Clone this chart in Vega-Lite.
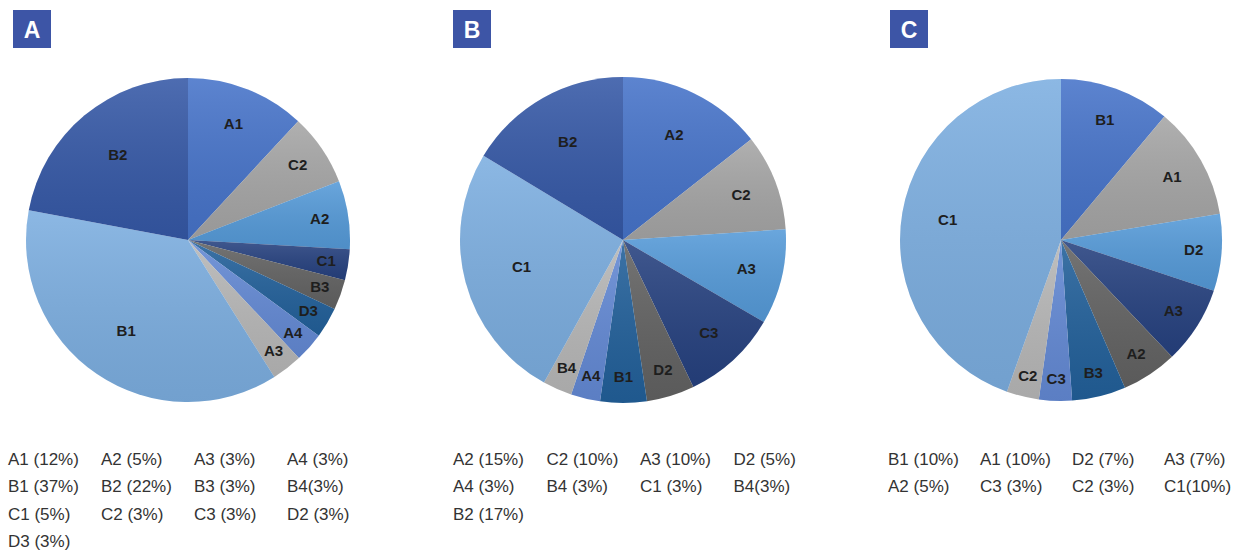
{
  "$schema": "https://vega.github.io/schema/vega-lite/v6.json",
  "padding": {"left": 8, "top": 10, "right": 0, "bottom": 0},
  "background": "white",
  "config": {"view": {"stroke": null}},
  "datasets": {
    "slices": [
      {"panel": "A", "label": "A1", "pct": 11.9},
      {"panel": "A", "label": "C2", "pct": 7.2},
      {"panel": "A", "label": "A2", "pct": 6.8},
      {"panel": "A", "label": "C1", "pct": 3.1},
      {"panel": "A", "label": "B3", "pct": 3.0},
      {"panel": "A", "label": "D3", "pct": 3.05},
      {"panel": "A", "label": "A4", "pct": 2.95},
      {"panel": "A", "label": "A3", "pct": 3.05},
      {"panel": "A", "label": "B1", "pct": 36.9},
      {"panel": "A", "label": "B2", "pct": 22.05},
      {"panel": "B", "label": "A2", "pct": 14.4},
      {"panel": "B", "label": "C2", "pct": 9.55},
      {"panel": "B", "label": "A3", "pct": 9.45},
      {"panel": "B", "label": "C3", "pct": 9.5},
      {"panel": "B", "label": "D2", "pct": 4.75},
      {"panel": "B", "label": "B1", "pct": 4.6},
      {"panel": "B", "label": "A4", "pct": 2.9},
      {"panel": "B", "label": "B4", "pct": 2.9},
      {"panel": "B", "label": "C1", "pct": 25.6},
      {"panel": "B", "label": "B2", "pct": 16.35},
      {"panel": "C", "label": "B1", "pct": 11.1},
      {"panel": "C", "label": "A1", "pct": 11.3},
      {"panel": "C", "label": "D2", "pct": 7.7},
      {"panel": "C", "label": "A3", "pct": 7.8},
      {"panel": "C", "label": "A2", "pct": 5.6},
      {"panel": "C", "label": "B3", "pct": 5.4},
      {"panel": "C", "label": "C3", "pct": 3.3},
      {"panel": "C", "label": "C2", "pct": 3.25},
      {"panel": "C", "label": "C1", "pct": 44.55}
    ],
    "legend": [
      {"panel": "A", "entry": "A1 (12%)"},
      {"panel": "A", "entry": "A2 (5%)"},
      {"panel": "A", "entry": "A3 (3%)"},
      {"panel": "A", "entry": "A4 (3%)"},
      {"panel": "A", "entry": "B1 (37%)"},
      {"panel": "A", "entry": "B2 (22%)"},
      {"panel": "A", "entry": "B3 (3%)"},
      {"panel": "A", "entry": "B4(3%)"},
      {"panel": "A", "entry": "C1 (5%)"},
      {"panel": "A", "entry": "C2 (3%)"},
      {"panel": "A", "entry": "C3 (3%)"},
      {"panel": "A", "entry": "D2 (3%)"},
      {"panel": "A", "entry": "D3 (3%)"},
      {"panel": "B", "entry": "A2 (15%)"},
      {"panel": "B", "entry": "C2 (10%)"},
      {"panel": "B", "entry": "A3 (10%)"},
      {"panel": "B", "entry": "D2 (5%)"},
      {"panel": "B", "entry": "A4 (3%)"},
      {"panel": "B", "entry": "B4 (3%)"},
      {"panel": "B", "entry": "C1 (3%)"},
      {"panel": "B", "entry": "B4(3%)"},
      {"panel": "B", "entry": "B2 (17%)"},
      {"panel": "C", "entry": "B1 (10%)"},
      {"panel": "C", "entry": "A1 (10%)"},
      {"panel": "C", "entry": "D2 (7%)"},
      {"panel": "C", "entry": "A3 (7%)"},
      {"panel": "C", "entry": "A2 (5%)"},
      {"panel": "C", "entry": "C3 (3%)"},
      {"panel": "C", "entry": "C2 (3%)"},
      {"panel": "C", "entry": "C1(10%)"}
    ]
  },
  "hconcat": [
    {
      "vconcat": [
        {
          "width": 48, "height": 38,
          "data": {"values": [{"t": "A"}]},
          "layer": [
            {"mark": {"type": "point", "shape": "square", "size": 1444, "filled": true, "opacity": 1, "color": "#3d55a6", "strokeWidth": 0}},
            {"mark": {"type": "text", "font": "Liberation Sans", "fontSize": 23, "fontWeight": "bold", "color": "white", "align": "center", "baseline": "alphabetic", "dy": 9},
             "encoding": {"text": {"field": "t"}}}
          ]
        },
        {
          "width": 360, "height": 344,
          "data": {"name": "slices"},
          "transform": [{"filter": "datum.panel === 'A'"}, {"window": [{"op": "row_number", "as": "k"}]}],
          "encoding": {
            "theta": {"field": "pct", "type": "quantitative", "stack": true},
            "order": {"field": "k", "type": "quantitative"}
          },
          "layer": [
            {
              "mark": {"type": "arc", "outerRadius": 162},
              "encoding": {
                "color": {"field": "k", "type": "ordinal", "legend": null,
                  "scale": {"domain": [1,2,3,4,5,6,7,8,9,10], "range": ["#4673c9","#a5a5a5","#559ad8","#26417f","#626262","#22609a","#6389d4","#b7b7b7","#7caee0","#3558a6"]}}
              }
            },
            {
              "mark": {"type": "arc", "outerRadius": 162, "fill": {"gradient": "linear", "x1": 0, "y1": 0, "x2": 0, "y2": 1, "stops": [{"offset": 0, "color": "rgba(255,255,255,0.12)"}, {"offset": 1, "color": "rgba(0,0,0,0.08)"}]}},
              "encoding": {"detail": {"field": "k", "type": "ordinal"}}
            },
            {
              "mark": {"type": "text", "font": "Liberation Sans", "fontSize": 15, "fontWeight": "bold"},
              "encoding": {
                "detail": {"field": "k", "type": "ordinal"},
                "color": {"value": "#1e1e1e"},
                "text": {"field": "label"},
                "radius": {"field": "pct", "type": "quantitative", "scale": {"type": "linear", "domain": [3, 20], "range": [140, 110], "clamp": true, "zero": false}}
              }
            }
          ]
        },
        {
          "width": 384, "height": 110,
          "data": {"name": "legend"},
          "transform": [
            {"filter": "datum.panel === 'A'"},
            {"window": [{"op": "row_number", "as": "idx"}]},
            {"calculate": "(datum.idx - 1) % 4", "as": "col"},
            {"calculate": "floor((datum.idx - 1) / 4)", "as": "row"}
          ],
          "mark": {"type": "text", "align": "left", "baseline": "middle", "font": "Liberation Sans", "fontSize": 17, "color": "#333333"},
          "encoding": {
            "x": {"field": "col", "type": "quantitative", "axis": null, "scale": {"domain": [0, 4.129], "nice": false, "zero": false}},
            "y": {"field": "row", "type": "quantitative", "axis": null, "scale": {"domain": [-1, 3], "nice": false, "zero": false, "reverse": true}},
            "text": {"field": "entry"}
          }
        }
      ],
      "spacing": 20
    },
    {
      "vconcat": [
        {
          "width": 38, "height": 38,
          "data": {"values": [{"t": "B"}]},
          "layer": [
            {"mark": {"type": "point", "shape": "square", "size": 1444, "filled": true, "opacity": 1, "color": "#3d55a6", "strokeWidth": 0}},
            {"mark": {"type": "text", "font": "Liberation Sans", "fontSize": 23, "fontWeight": "bold", "color": "white", "align": "center", "baseline": "alphabetic", "dy": 9},
             "encoding": {"text": {"field": "t"}}}
          ]
        },
        {
          "width": 340, "height": 344,
          "data": {"name": "slices"},
          "transform": [{"filter": "datum.panel === 'B'"}, {"window": [{"op": "row_number", "as": "k"}]}],
          "encoding": {
            "theta": {"field": "pct", "type": "quantitative", "stack": true},
            "order": {"field": "k", "type": "quantitative"}
          },
          "layer": [
            {
              "mark": {"type": "arc", "outerRadius": 163},
              "encoding": {
                "color": {"field": "k", "type": "ordinal", "legend": null,
                  "scale": {"domain": [1,2,3,4,5,6,7,8,9,10], "range": ["#4673c9","#a5a5a5","#559ad8","#26417f","#626262","#22609a","#6389d4","#b7b7b7","#7caee0","#3558a6"]}}
              }
            },
            {
              "mark": {"type": "arc", "outerRadius": 163, "fill": {"gradient": "linear", "x1": 0, "y1": 0, "x2": 0, "y2": 1, "stops": [{"offset": 0, "color": "rgba(255,255,255,0.12)"}, {"offset": 1, "color": "rgba(0,0,0,0.08)"}]}},
              "encoding": {"detail": {"field": "k", "type": "ordinal"}}
            },
            {
              "mark": {"type": "text", "font": "Liberation Sans", "fontSize": 15, "fontWeight": "bold"},
              "encoding": {
                "detail": {"field": "k", "type": "ordinal"},
                "color": {"value": "#1e1e1e"},
                "text": {"field": "label"},
                "radius": {"field": "pct", "type": "quantitative", "scale": {"type": "linear", "domain": [3, 20], "range": [140, 105], "clamp": true, "zero": false}}
              }
            }
          ]
        },
        {
          "width": 374, "height": 110,
          "data": {"name": "legend"},
          "transform": [
            {"filter": "datum.panel === 'B'"},
            {"window": [{"op": "row_number", "as": "idx"}]},
            {"calculate": "(datum.idx - 1) % 4", "as": "col"},
            {"calculate": "floor((datum.idx - 1) / 4)", "as": "row"}
          ],
          "mark": {"type": "text", "align": "left", "baseline": "middle", "font": "Liberation Sans", "fontSize": 17, "color": "#333333"},
          "encoding": {
            "x": {"field": "col", "type": "quantitative", "axis": null, "scale": {"domain": [0, 4], "nice": false, "zero": false}},
            "y": {"field": "row", "type": "quantitative", "axis": null, "scale": {"domain": [-1, 3], "nice": false, "zero": false, "reverse": true}},
            "text": {"field": "entry"}
          }
        }
      ],
      "spacing": 20
    },
    {
      "vconcat": [
        {
          "width": 42, "height": 38,
          "data": {"values": [{"t": "C"}]},
          "layer": [
            {"mark": {"type": "point", "shape": "square", "size": 1444, "filled": true, "opacity": 1, "color": "#3d55a6", "strokeWidth": 0}},
            {"mark": {"type": "text", "font": "Liberation Sans", "fontSize": 23, "fontWeight": "bold", "color": "white", "align": "center", "baseline": "alphabetic", "dy": 9},
             "encoding": {"text": {"field": "t"}}}
          ]
        },
        {
          "width": 346, "height": 344,
          "data": {"name": "slices"},
          "transform": [{"filter": "datum.panel === 'C'"}, {"window": [{"op": "row_number", "as": "k"}]}],
          "encoding": {
            "theta": {"field": "pct", "type": "quantitative", "stack": true},
            "order": {"field": "k", "type": "quantitative"}
          },
          "layer": [
            {
              "mark": {"type": "arc", "outerRadius": 161},
              "encoding": {
                "color": {"field": "k", "type": "ordinal", "legend": null,
                  "scale": {"domain": [1,2,3,4,5,6,7,8,9,10], "range": ["#4673c9","#a5a5a5","#559ad8","#26417f","#626262","#22609a","#6389d4","#b7b7b7","#7caee0","#3558a6"]}}
              }
            },
            {
              "mark": {"type": "arc", "outerRadius": 161, "fill": {"gradient": "linear", "x1": 0, "y1": 0, "x2": 0, "y2": 1, "stops": [{"offset": 0, "color": "rgba(255,255,255,0.12)"}, {"offset": 1, "color": "rgba(0,0,0,0.08)"}]}},
              "encoding": {"detail": {"field": "k", "type": "ordinal"}}
            },
            {
              "mark": {"type": "text", "font": "Liberation Sans", "fontSize": 15, "fontWeight": "bold"},
              "encoding": {
                "detail": {"field": "k", "type": "ordinal"},
                "color": {"value": "#1e1e1e"},
                "text": {"field": "label"},
                "radius": {"field": "pct", "type": "quantitative", "scale": {"type": "linear", "domain": [3, 20], "range": [140, 115], "clamp": true, "zero": false}}
              }
            }
          ]
        },
        {
          "width": 276, "height": 110,
          "data": {"name": "legend"},
          "transform": [
            {"filter": "datum.panel === 'C'"},
            {"window": [{"op": "row_number", "as": "idx"}]},
            {"calculate": "(datum.idx - 1) % 4", "as": "col"},
            {"calculate": "floor((datum.idx - 1) / 4)", "as": "row"}
          ],
          "mark": {"type": "text", "align": "left", "baseline": "middle", "font": "Liberation Sans", "fontSize": 17, "color": "#333333"},
          "encoding": {
            "x": {"field": "col", "type": "quantitative", "axis": null, "scale": {"domain": [0, 3], "nice": false, "zero": false}},
            "y": {"field": "row", "type": "quantitative", "axis": null, "scale": {"domain": [-1, 3], "nice": false, "zero": false, "reverse": true}},
            "text": {"field": "entry"}
          }
        }
      ],
      "spacing": 20
    }
  ],
  "spacing": 61
}
